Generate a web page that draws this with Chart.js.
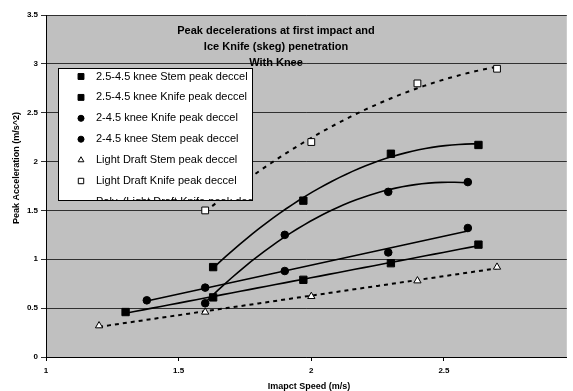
<!DOCTYPE html>
<html>
<head>
<meta charset="utf-8">
<script src="https://cdn.jsdelivr.net/npm/chart.js@4"></script>
<style>
  html, body { margin: 0; padding: 0; background: #fff; overflow: hidden; }
</style>
</head>
<body>
<canvas id="myChart" width="573" height="391"></canvas>
<script>
// peak deceleration readings, impact speed (m/s) vs peak acceleration (m/s^2)
const stem25X = [1.3, 1.63, 1.97, 2.3, 2.63];
const stem25Y = [0.46, 0.61, 0.79, 0.96, 1.15];
const knife25X = [1.63, 1.97, 2.3, 2.63];
const knife25Y = [0.92, 1.6, 2.08, 2.17];
const knife2X = [1.6, 1.9, 2.29, 2.59];
const knife2Y = [0.55, 1.25, 1.69, 1.79];
const stem2X = [1.38, 1.6, 1.9, 2.29, 2.59];
const stem2Y = [0.58, 0.71, 0.88, 1.07, 1.32];
const lightStemX = [1.2, 1.6, 2.0, 2.4, 2.7];
const lightStemY = [0.32, 0.46, 0.62, 0.78, 0.92];
const lightKnifeX = [1.6, 2.0, 2.4, 2.7];
const lightKnifeY = [1.5, 2.2, 2.8, 2.95];

const xTicks = [1, 1.5, 2, 2.5];
const titleLines = ['Peak decelerations at first impact and', 'Ice Knife (skeg) penetration', 'With Knee'];

const FONT = '"Liberation Sans", Arial, sans-serif';

function toPoints(xs, ys) {
  return xs.map((x, i) => ({ x: x, y: ys[i] }));
}

// least squares polynomial fit, like the spreadsheet trendlines
function polyFit(xs, ys, deg) {
  const n = deg + 1;
  const A = [];
  for (let r = 0; r < n; r++) {
    A.push([]);
    for (let c = 0; c <= n; c++) A[r].push(0);
  }
  for (let i = 0; i < xs.length; i++) {
    for (let r = 0; r < n; r++) {
      for (let c = 0; c < n; c++) A[r][c] += Math.pow(xs[i], r + c);
      A[r][n] += ys[i] * Math.pow(xs[i], r);
    }
  }
  for (let p = 0; p < n; p++) {
    let best = p;
    for (let r = p + 1; r < n; r++) if (Math.abs(A[r][p]) > Math.abs(A[best][p])) best = r;
    [A[p], A[best]] = [A[best], A[p]];
    for (let r = 0; r < n; r++) {
      if (r == p) continue;
      const f = A[r][p] / A[p][p];
      for (let c = p; c <= n; c++) A[r][c] -= f * A[p][c];
    }
  }
  return A.map((row, i) => row[n] / row[i]);
}

function trendline(xs, ys, deg) {
  const coef = polyFit(xs, ys, deg);
  const lo = Math.min(...xs), hi = Math.max(...xs);
  const pts = [];
  for (let i = 0; i <= 40; i++) {
    const x = lo + (hi - lo) * i / 40;
    let y = 0;
    coef.forEach((c, k) => { y += c * Math.pow(x, k); });
    pts.push({ x: x, y: y });
  }
  return pts;
}

function markerSet(label, xs, ys, style, radius, fill) {
  return {
    label: label,
    data: toPoints(xs, ys),
    showLine: false,
    pointStyle: style,
    pointRadius: radius,
    pointHoverRadius: radius,
    pointBackgroundColor: fill,
    pointBorderColor: '#000',
    pointBorderWidth: 1,
    inLegend: true
  };
}

function trendSet(label, pts, dash, legend) {
  return {
    label: label,
    data: pts,
    showLine: true,
    borderColor: '#000',
    borderWidth: dash.length ? 2 : 1.6,
    borderDash: dash,
    pointRadius: 0,
    tension: 0,
    inLegend: legend
  };
}

const datasets = [
  markerSet('2.5-4.5 knee Stem peak deccel', stem25X, stem25Y, 'rect', 5.2, '#000'),
  markerSet('2.5-4.5 knee Knife peak deccel', knife25X, knife25Y, 'rect', 5.2, '#000'),
  markerSet('2-4.5 knee Knife peak deccel', knife2X, knife2Y, 'circle', 3.8, '#000'),
  markerSet('2-4.5 knee Stem peak deccel', stem2X, stem2Y, 'circle', 3.8, '#000'),
  markerSet('Light Draft Stem peak deccel', lightStemX, lightStemY, 'triangle', 4.2, '#fff'),
  markerSet('Light Draft Knife peak deccel', lightKnifeX, lightKnifeY, 'rect', 4.8, '#fff'),
  trendSet('Poly. (Light Draft Knife peak deccel)', trendline(lightKnifeX, lightKnifeY, 2), [4, 5], true),
  trendSet('Linear (2.5-4.5 knee Stem peak deccel)', trendline(stem25X, stem25Y, 1), [], false),
  trendSet('Poly. (2.5-4.5 knee Knife peak deccel)', trendline(knife25X, knife25Y, 2), [], false),
  trendSet('Poly. (2-4.5 knee Knife peak deccel)', trendline(knife2X, knife2Y, 2), [], false),
  trendSet('Linear (2-4.5 knee Stem peak deccel)', trendline(stem2X, stem2Y, 1), [], false),
  trendSet('Linear (Light Draft Stem peak deccel)', trendline(lightStemX, lightStemY, 1), [4, 4], false)
];

const plotBackground = {
  id: 'plotBackground',
  beforeDraw(chart) {
    const a = chart.chartArea, ctx = chart.ctx;
    ctx.save();
    ctx.fillStyle = '#c0c0c0';
    ctx.fillRect(a.left, a.top, a.right - a.left, a.bottom - a.top);
    ctx.restore();
  }
};

function drawMarker(ctx, ds, x, y) {
  ctx.save();
  ctx.fillStyle = ds.pointBackgroundColor;
  ctx.strokeStyle = '#000';
  ctx.lineWidth = 1;
  Chart.helpers.drawPoint(ctx, {
    pointStyle: ds.pointStyle,
    radius: ds.pointRadius * 0.8,
    rotation: 0,
    borderWidth: 1
  }, x, y);
  ctx.restore();
}

// boxed legend sitting inside the plot, clipped at its lower edge
const boxLegend = {
  id: 'boxLegend',
  afterDatasetsDraw(chart) {
    const ctx = chart.ctx;
    const bx = 58, by = 68, bw = 195, bh = 133;
    ctx.save();
    ctx.fillStyle = '#fff';
    ctx.fillRect(bx, by, bw, bh);
    ctx.beginPath();
    ctx.rect(bx, by, bw, bh);
    ctx.clip();
    ctx.font = '11px ' + FONT;
    ctx.textBaseline = 'middle';
    ctx.fillStyle = '#000';
    let row = 0;
    chart.data.datasets.forEach(ds => {
      if (!ds.inLegend) return;
      const y = by + 8.5 + row * 20.9;
      if (ds.showLine) {
        ctx.save();
        ctx.strokeStyle = '#000';
        ctx.lineWidth = 2;
        ctx.setLineDash([4, 4]);
        ctx.beginPath();
        ctx.moveTo(67, y);
        ctx.lineTo(93, y);
        ctx.stroke();
        ctx.restore();
      } else {
        drawMarker(ctx, ds, 81, y);
      }
      ctx.fillStyle = '#000';
      ctx.fillText(ds.label, 96, y);
      row++;
    });
    ctx.restore();
    ctx.save();
    ctx.strokeStyle = '#000';
    ctx.lineWidth = 1;
    ctx.strokeRect(bx + 0.5, by + 0.5, bw - 1, bh - 1);
    ctx.restore();
  }
};

const chartText = {
  id: 'chartText',
  afterDraw(chart) {
    const ctx = chart.ctx;
    ctx.save();
    ctx.fillStyle = '#000';
    ctx.textAlign = 'center';
    ctx.textBaseline = 'middle';
    ctx.font = 'bold 11px ' + FONT;
    titleLines.forEach((t, i) => ctx.fillText(t, 276, 31 + i * 15.8));
    ctx.font = 'bold 9px ' + FONT;
    ctx.fillText('Imapct Speed (m/s)', 309, 387);
    ctx.translate(17, 168);
    ctx.rotate(-Math.PI / 2);
    ctx.fillText('Peak Acceleration (m/s^2)', 0, 0);
    ctx.restore();
  }
};

const plainNumber = v => String(Math.round(v * 100) / 100);

const config = {
  type: 'scatter',
  data: { datasets: datasets },
  options: {
    responsive: false,
    animation: false,
    events: [],
    layout: { padding: { top: 15, right: 1, left: 0, bottom: 0 } },
    plugins: {
      legend: { display: false },
      tooltip: { enabled: false },
      title: { display: false }
    },
    scales: {
      x: {
        type: 'linear',
        min: 1,
        max: 2.963,
        afterBuildTicks: s => { s.ticks = xTicks.map(v => ({ value: v })); },
        afterFit: s => { s.height = 34; },
        grid: { drawOnChartArea: false, drawTicks: true, tickLength: 4, color: '#000' },
        border: { color: '#000', width: 1 },
        ticks: {
          color: '#000',
          padding: 5,
          maxRotation: 0,
          callback: plainNumber,
          font: { family: FONT, size: 8, weight: 'bold' }
        }
      },
      y: {
        min: 0,
        max: 3.5,
        afterFit: s => { s.width = 46; },
        grid: { color: '#303030', lineWidth: 1, drawTicks: true, tickLength: 5 },
        border: { color: '#000', width: 1 },
        ticks: {
          stepSize: 0.5,
          color: '#000',
          padding: 3,
          callback: plainNumber,
          font: { family: FONT, size: 8, weight: 'bold' }
        }
      }
    }
  },
  plugins: [plotBackground, boxLegend, chartText]
};

const myChart = new Chart(document.getElementById('myChart'), config);
</script>
</body>
</html>
